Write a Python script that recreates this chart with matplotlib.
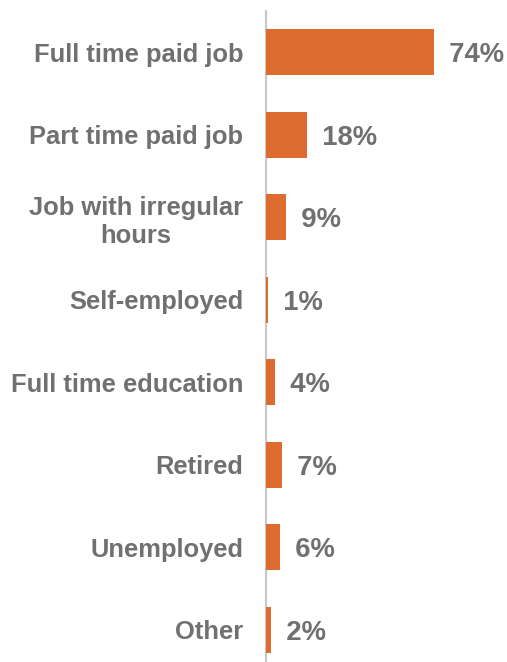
import matplotlib
matplotlib.use("Agg")
import matplotlib.pyplot as plt

categories = ["Full time paid job", "Part time paid job", "Job with irregular\nhours",
              "Self-employed", "Full time education", "Retired", "Unemployed", "Other"]
values = [74, 18, 9, 1, 4, 7, 6, 2]

bar_color = "#DE6B2F"
text_color = "#707070"

plt.rcParams["font.family"] = ["Liberation Sans", "DejaVu Sans"]

W, H = 507, 662
fig = plt.figure(figsize=(W / 100, H / 100), dpi=100)
left = 266 / W
top_px, bottom_px = 11, 671
ax = fig.add_axes([left, (H - bottom_px) / H, 1 - left, (bottom_px - top_px) / H])

y = list(range(len(categories)))
ax.barh(y, values, height=0.56, color=bar_color, zorder=3)
ax.set_ylim(len(categories) - 0.5, -0.5)
ax.set_xlim(0, 106)

for yi, v in zip(y, values):
    ax.text(v, yi, f"  {v}%", va="center_baseline", ha="left", fontsize=19.8,
            fontweight="bold", color=text_color)

ax.set_yticks(y)
ax.set_yticklabels(categories, fontsize=18.4, fontweight="bold", color=text_color,
                   multialignment="center")
ax.tick_params(axis="y", length=0, pad=16.5)
ax.set_xticks([])

for s in ["top", "right", "bottom"]:
    ax.spines[s].set_visible(False)
ax.spines["left"].set_color("#C8C8C8")
ax.spines["left"].set_linewidth(1.5)
ax.spines["left"].set_zorder(2)

fig.savefig("out.png", dpi=100)
